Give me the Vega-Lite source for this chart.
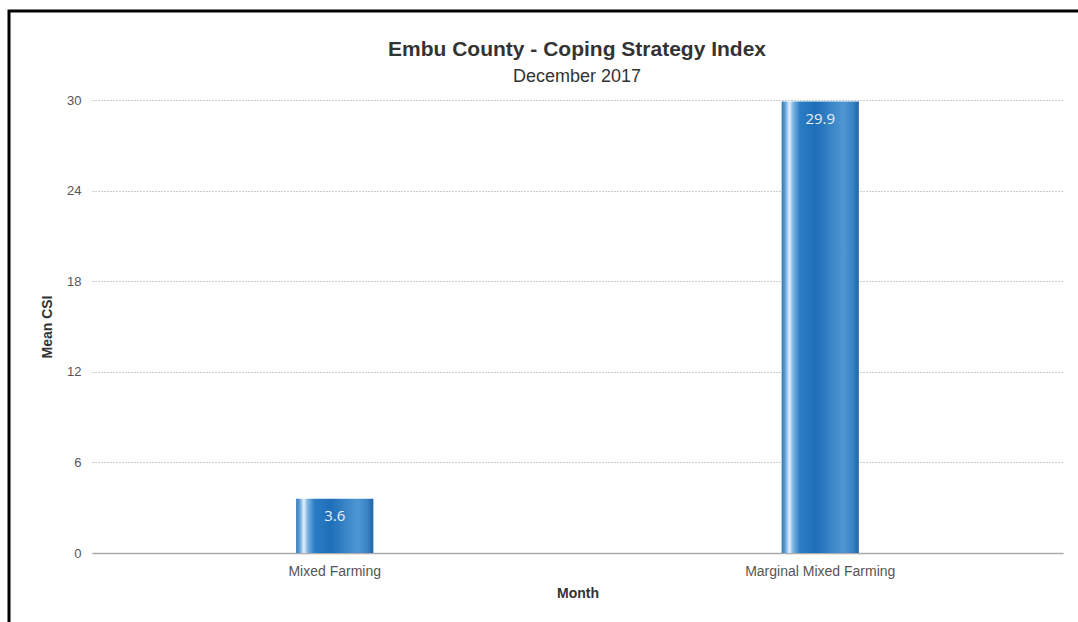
{
  "$schema": "https://vega.github.io/schema/vega-lite/v6.json",
  "width": 1072,
  "height": 614,
  "autosize": {"type": "none"},
  "padding": {"left": 9, "top": 11, "right": -3, "bottom": -3},
  "background": "white",
  "config": {
    "font": "Liberation Sans",
    "view": {"stroke": "black", "strokeWidth": 3}
  },
  "title": {
    "text": "Embu County - Coping Strategy Index",
    "subtitle": "December 2017",
    "anchor": "middle",
    "frame": "group",
    "offset": -75,
    "dx": 32,
    "font": "Liberation Sans",
    "fontSize": 21,
    "fontWeight": "bold",
    "color": "#333333",
    "subtitleFont": "Liberation Sans",
    "subtitleFontSize": 18,
    "subtitleColor": "#333333",
    "subtitlePadding": 8
  },
  "data": {
    "values": [
      {"zone": "Mixed Farming", "csi": 3.6},
      {"zone": "Marginal Mixed Farming", "csi": 29.9}
    ]
  },
  "encoding": {
    "x": {
      "field": "zone",
      "type": "nominal",
      "sort": null,
      "scale": {"range": [83, 1054], "paddingInner": 0, "paddingOuter": 0},
      "axis": {
        "title": "Month",
        "offset": -72,
        "labelAngle": 0,
        "labelFontSize": 14,
        "labelColor": "#555555",
        "labelPadding": 11,
        "ticks": false,
        "domainColor": "#aaaaaa",
        "domainWidth": 1.5,
        "titleFontSize": 14,
        "titleFontWeight": "bold",
        "titleColor": "#333333",
        "titlePadding": 8,
        "grid": false
      }
    },
    "y": {
      "field": "csi",
      "type": "quantitative",
      "scale": {"domain": [0, 30], "nice": false, "range": [542, 89]},
      "axis": {
        "title": "Mean CSI",
        "offset": -83,
        "values": [0, 6, 12, 18, 24, 30],
        "labelFontSize": 13,
        "labelColor": "#555555",
        "labelPadding": 11,
        "ticks": false,
        "domain": false,
        "grid": true,
        "gridColor": "#999999",
        "gridDash": [1, 2],
        "gridWidth": 1,
        "titleFontSize": 14,
        "titleFontWeight": "bold",
        "titleColor": "#333333",
        "titlePadding": 12
      }
    }
  },
  "layer": [
    {
      "mark": {
        "type": "bar",
        "width": {"band": 0.159},
        "fill": {
          "gradient": "linear",
          "x1": 0, "y1": 0, "x2": 1, "y2": 0,
          "stops": [
            {"offset": 0, "color": "#2f74b5"},
            {"offset": 0.05, "color": "#6aa7de"},
            {"offset": 0.1, "color": "#e6f1fb"},
            {"offset": 0.15, "color": "#7ab3e3"},
            {"offset": 0.24, "color": "#2a7cc4"},
            {"offset": 0.45, "color": "#1e6fb8"},
            {"offset": 0.8, "color": "#4f97d3"},
            {"offset": 0.92, "color": "#3a83c4"},
            {"offset": 1, "color": "#1f65a8"}
          ]
        }
      }
    },
    {
      "mark": {
        "type": "text",
        "dy": 17,
        "baseline": "middle",
        "align": "center",
        "font": "Open Sans",
        "fontSize": 15,
        "color": "#e8f0fa"
      },
      "encoding": {
        "text": {"field": "csi", "type": "quantitative", "format": ".1f"}
      }
    }
  ]
}
